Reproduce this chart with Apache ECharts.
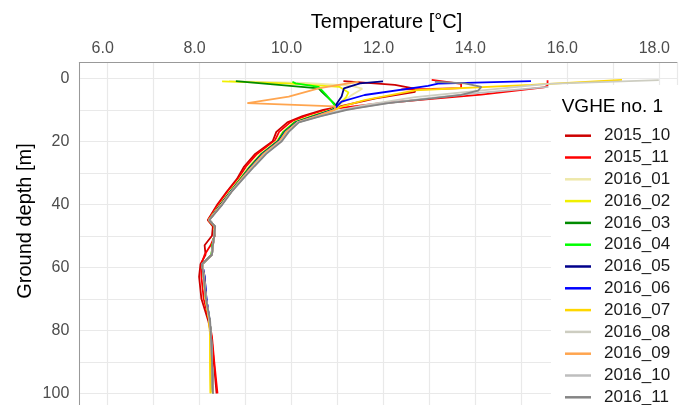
<!DOCTYPE html>
<html><head><meta charset="utf-8">
<script src="https://cdn.jsdelivr.net/npm/echarts@6/dist/echarts.min.js"></script>
<style>html,body{margin:0;padding:0;background:#fff}#c{width:680px;height:405px}</style>
</head><body><div id="c"></div>
<script>
// ---- data ----
const categories = ['2015_10','2015_11','2016_01','2016_02','2016_03','2016_04','2016_05','2016_06','2016_07','2016_08','2016_09','2016_10','2016_11'];
const xTickLabels = [6, 8, 10, 12, 14, 16, 18];
const yTickLabels = [0, 20, 40, 60, 80, 100];

// shallow part of each profile: [temperature, depth]
const top_2015_10 = [[11.14,0.9],[12.26,2.1],[12.66,3.2],[12.7,4.3],[11.84,6.4],[10.89,9.5]];
const top_2015_11 = [[13.06,0.5],[13.7,1.8],[13.7,3.1],[13.06,3.4],[12.4,3.5],['-','-'],[15.58,0.6],[15.58,2.3],[15.5,2.9],[14.14,5.2],[13.0,6.6],[11.9,8.0],[11.05,9.5]];
const top_2016_01 = [[8.65,0.9],[10.3,1.5],[11.3,2.3],[11.55,3.3],[11.3,5.5],[11.02,8.8]];
const top_2016_02 = [[8.5,1.0],[9.9,1.6],[11.05,2.7],[11.25,4.5],[11.2,6.0],[11.0,8.9]];
const top_2016_03 = [[8.8,0.9],[10.6,3.2],[10.67,4.3],[10.78,5.8],[10.93,7.9],[11.0,9.0]];
const top_2016_04 = [[10.03,1.1],[10.1,1.6],[10.6,2.7],[10.75,5.0],[10.89,7.4],[10.97,9.0]];
const top_2016_05 = [[12.0,1.0],[11.5,1.6],[11.15,3.2],[11.1,5.8],[11.0,7.9],[10.97,9.2]];
const top_2016_06 = [[15.22,0.9],[13.2,1.7],[12.98,2.4],[11.6,5.3],[11.1,7.4],[11.0,8.8]];
const top_2016_07 = [[17.2,0.5],[15.22,2.1],[12.7,3.8],[11.6,6.9],[11.1,9.0]];
const top_2016_08 = [[18.0,0.6],[15.58,1.8],[14.1,3.9],[12.7,6.0],[11.6,8.5]];
const top_2016_09 = [[11.47,1.1],[11.04,2.1],[10.6,3.2],[9.95,5.8],[9.05,7.9],[10.96,8.9]];
const top_2016_10 = [[15.6,2.7],[14.1,4.6],[13.0,6.3],[12.0,8.0]];
const top_2016_11 = [[13.13,1.1],[13.78,1.6],[14.14,2.7],[14.07,3.9],[13.7,5.3],[13.06,6.4],[12.12,7.9],[11.5,9.3]];

// deeper part: temperatures at these depths
const depthsDeep = [10, 12, 14, 17, 20, 24, 28, 32, 36, 40, 45, 47, 50, 53, 56, 59, 63, 70, 77, 82, 90, 100];
const deep_2015_10 = [10.7, 10.25, 9.92, 9.68, 9.6, 9.22, 8.98, 8.82, 8.6, 8.4, 8.19, 8.3, 8.28, 8.12, 8.14, 8.03, 8.0, 8.05, 8.2, 8.27, 8.32, 8.38];
const deep_2015_11 = [10.8, 10.32, 9.98, 9.74, 9.64, 9.26, 9.02, 8.85, 8.62, 8.42, 8.2, 8.35, 8.34, 8.25, 8.12, 8.05, 8.05, 8.1, 8.22, 8.28, 8.33, 8.4];
const deep_2016_01 = [10.88, 10.42, 10.05, 9.82, 9.68, 9.33, 9.08, 8.88, 8.66, 8.46, 8.21, 8.35, 8.33, 8.29, 8.27, 8.07, 8.1, 8.14, 8.23, 8.26, 8.28, 8.3];
const deep_2016_02 = [10.88, 10.45, 10.07, 9.83, 9.7, 9.35, 9.1, 8.89, 8.67, 8.47, 8.21, 8.34, 8.33, 8.29, 8.27, 8.07, 8.1, 8.14, 8.22, 8.24, 8.24, 8.25];
const deep_2016_03 = [10.9, 10.48, 10.08, 9.84, 9.71, 9.36, 9.11, 8.9, 8.68, 8.47, 8.22, 8.35, 8.33, 8.29, 8.27, 8.07, 8.1, 8.15, 8.23, 8.26, 8.28, 8.3];
const deep_2016_04 = [10.9, 10.5, 10.1, 9.85, 9.72, 9.37, 9.12, 8.9, 8.68, 8.48, 8.22, 8.35, 8.33, 8.29, 8.27, 8.07, 8.1, 8.15, 8.23, 8.26, 8.28, 8.3];
const deep_2016_05 = [10.92, 10.52, 10.12, 9.87, 9.73, 9.38, 9.13, 8.91, 8.69, 8.48, 8.22, 8.35, 8.33, 8.3, 8.28, 8.07, 8.12, 8.16, 8.23, 8.26, 8.28, 8.3];
const deep_2016_06 = [10.93, 10.54, 10.13, 9.88, 9.74, 9.39, 9.14, 8.92, 8.69, 8.49, 8.22, 8.35, 8.33, 8.3, 8.28, 8.07, 8.12, 8.16, 8.23, 8.26, 8.28, 8.3];
const deep_2016_07 = [10.95, 10.56, 10.14, 9.89, 9.75, 9.4, 9.15, 8.92, 8.7, 8.49, 8.22, 8.35, 8.33, 8.3, 8.28, 8.07, 8.11, 8.15, 8.22, 8.24, 8.24, 8.25];
const deep_2016_08 = [11.1, 10.6, 10.15, 9.92, 9.77, 9.43, 9.17, 8.93, 8.7, 8.5, 8.22, 8.35, 8.33, 8.3, 8.28, 8.07, 8.1, 8.15, 8.23, 8.26, 8.28, 8.3];
const deep_2016_09 = [10.95, 10.56, 10.14, 9.9, 9.76, 9.41, 9.16, 8.92, 8.7, 8.49, 8.22, 8.35, 8.33, 8.3, 8.28, 8.07, 8.1, 8.15, 8.23, 8.26, 8.28, 8.3];
const deep_2016_10 = [11.18, 10.63, 10.15, 9.94, 9.78, 9.44, 9.18, 8.94, 8.7, 8.5, 8.22, 8.35, 8.33, 8.3, 8.28, 8.07, 8.1, 8.15, 8.23, 8.26, 8.28, 8.3];
const deep_2016_11 = [11.22, 10.65, 10.17, 9.95, 9.8, 9.46, 9.2, 8.95, 8.71, 8.51, 8.22, 8.35, 8.33, 8.3, 8.28, 8.06, 8.1, 8.15, 8.24, 8.26, 8.28, 8.3];

const tops = [top_2015_10, top_2015_11, top_2016_01, top_2016_02, top_2016_03, top_2016_04, top_2016_05, top_2016_06, top_2016_07, top_2016_08, top_2016_09, top_2016_10, top_2016_11];
const deeps = [deep_2015_10, deep_2015_11, deep_2016_01, deep_2016_02, deep_2016_03, deep_2016_04, deep_2016_05, deep_2016_06, deep_2016_07, deep_2016_08, deep_2016_09, deep_2016_10, deep_2016_11];

// ---- styles ----
const colors = ['#CD0000','#FF0000','#EEE8AA','#F0F000','#008B00','#00FF00','#00008B','#0000FF','#FFD700','#CDCDC1','#FFA54F','#BEBEBE','#858585'];
const FONT = 'Liberation Sans, Arial, sans-serif';

const series = categories.map((name, i) => ({
  name, type: 'line', color: colors[i],
  data: tops[i].concat(depthsDeep.map((d, k) => [deeps[i][k], d])),
  showSymbol: false, symbol: 'none', connectNulls: false,
  lineStyle: { color: colors[i], width: 1.8 },
  z: 3
}));

const chart = echarts.init(document.getElementById('c'), null, { renderer: 'canvas' });
chart.setOption({
  animation: false,
  backgroundColor: '#fff',
  grid: { left: 79.3, top: 62.7, right: 0, bottom: 0, show: false },
  xAxis: {
    type: 'value', position: 'top', min: 5.394, max: 18.396,
    minInterval: 1, maxInterval: 1,
    axisLine: { show: true, onZero: false, lineStyle: { color: '#999', width: 1 } },
    axisTick: { show: false },
    splitLine: { show: true, lineStyle: { color: '#e9e9e9', width: 1.2 } },
    axisLabel: {
      margin: 6, color: '#4d4d4d', fontSize: 16, fontFamily: FONT, padding: [0, 9, 0, 0],
      formatter: v => (Math.abs(v - Math.round(v)) < 1e-6 && xTickLabels.includes(Math.round(v))) ? v.toFixed(1) : ''
    }
  },
  yAxis: {
    type: 'value', inverse: true, min: -4.95, max: 103.7,
    minInterval: 10, maxInterval: 10,
    axisLine: { show: true, onZero: false, lineStyle: { color: '#999', width: 1 } },
    axisTick: { show: false },
    splitLine: { show: true, lineStyle: { color: '#e9e9e9', width: 1.2 } },
    axisLabel: {
      margin: 10, color: '#4d4d4d', fontSize: 16, fontFamily: FONT, padding: [3, 0, 0, 0],
      formatter: v => (Math.abs(v - Math.round(v)) < 1e-6 && yTickLabels.includes(Math.round(v))) ? String(Math.round(v)) : ''
    }
  },
  legend: {
    data: categories, orient: 'vertical', left: 565, top: 125.7, height: 600, padding: 0,
    icon: 'rect', itemWidth: 26, itemHeight: 2.5, itemGap: 1.8, selectedMode: false,
    textStyle: { fontSize: 17, color: '#1a1a1a', fontFamily: FONT, lineHeight: 20, padding: [0, 0, 0, 8] },
    z: 60
  },
  graphic: [
    { type: 'rect', z: 50, shape: { x: 551, y: 85, width: 160, height: 340 }, style: { fill: '#fff' } },
    { type: 'text', z: 60, x: 561.7, y: 106.7, style: { text: 'VGHE no. 1', font: '19px ' + FONT, fill: '#000', textAlign: 'left', textVerticalAlign: 'middle' } },
    { type: 'text', z: 60, x: 386.5, y: 22, style: { text: 'Temperature [°C]', font: '20px ' + FONT, fill: '#000', textAlign: 'center', textVerticalAlign: 'middle' } },
    { type: 'text', z: 60, x: 25, y: 221, rotation: Math.PI / 2, style: { text: 'Ground depth [m]', font: '20px ' + FONT, fill: '#000', textAlign: 'center', textVerticalAlign: 'middle' } }
  ],
  series
});
</script></body></html>
